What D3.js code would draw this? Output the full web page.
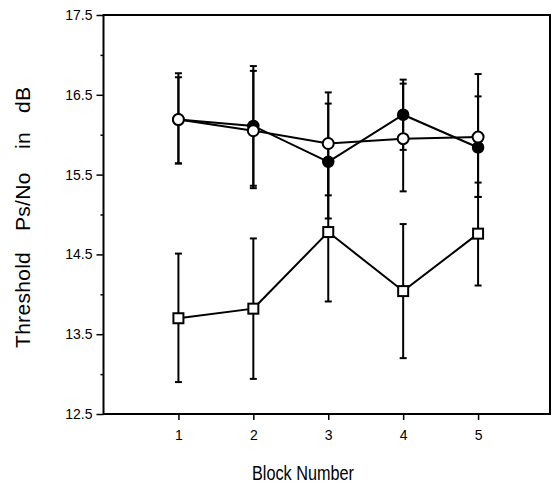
<!DOCTYPE html>
<html>
<head>
<meta charset="utf-8">
<script src="https://cdn.jsdelivr.net/npm/d3@7"></script>
<style>
  body { margin: 0; background: #fff; }
  text { font-family: "Liberation Sans", Arial, sans-serif; fill: #000; }
</style>
</head>
<body>
<svg id="chart"></svg>
<script>
// block numbers on the x axis
var blocks = [1, 2, 3, 4, 5];

// filled circles
var filledMean = [16.19, 16.11, 15.66, 16.25, 15.84];
var filledLo   = [15.64, 15.36, 14.95, 15.81, 15.22];
var filledHi   = [16.77, 16.86, 16.39, 16.69, 16.48];

// open circles
var openMean = [16.19, 16.05, 15.89, 15.95, 15.97];
var openLo   = [15.64, 15.33, 15.24, 15.29, 15.22];
var openHi   = [16.72, 16.80, 16.53, 16.64, 16.76];

// open squares
var squareMean = [13.70, 13.82, 14.78, 14.04, 14.76];
var squareLo   = [12.90, 12.94, 13.91, 13.20, 14.11];
var squareHi   = [14.51, 14.70, 15.65, 14.88, 15.40];

var yMajor = [12.5, 13.5, 14.5, 15.5, 16.5, 17.5];
var yMinor = [13, 14, 15, 16, 17];

var settings = { width: 554, height: 486, left: 103.5, right: 550, top: 15, bottom: 414 };

var svg = d3.select("#chart")
    .attr("width", settings.width)
    .attr("height", settings.height);

var x = d3.scaleLinear().domain([0, 5.96]).range([settings.left, settings.right]);
var y = d3.scaleLinear().domain([12.5, 17.5]).range([settings.bottom, settings.top]);

// frame
svg.append("rect")
    .attr("x", settings.left)
    .attr("y", settings.top)
    .attr("width", settings.right - settings.left)
    .attr("height", settings.bottom - settings.top)
    .attr("fill", "none")
    .attr("stroke", "#000")
    .attr("stroke-width", 2);

// y axis, major + minor ticks
var yAxis = svg.append("g")
    .attr("transform", "translate(" + settings.left + ",0)")
    .call(d3.axisLeft(y).tickValues(yMajor).tickFormat(d3.format(".1f")).tickSize(7).tickPadding(4));
yAxis.select(".domain").remove();
yAxis.selectAll("line").attr("stroke-width", 1.5);
yAxis.selectAll("text").style("font-size", "14px").style("font-family", "Liberation Sans, Arial, sans-serif");

var yMinorAxis = svg.append("g")
    .attr("transform", "translate(" + settings.left + ",0)")
    .call(d3.axisLeft(y).tickValues(yMinor).tickFormat("").tickSize(3));
yMinorAxis.select(".domain").remove();
yMinorAxis.selectAll("line").attr("stroke-width", 1.5);

// x axis
var xAxis = svg.append("g")
    .attr("transform", "translate(0," + settings.bottom + ")")
    .call(d3.axisBottom(x).tickValues(blocks).tickFormat(d3.format("d")).tickSize(6).tickPadding(10));
xAxis.select(".domain").remove();
xAxis.selectAll("line").attr("stroke-width", 1.5);
xAxis.selectAll("text").style("font-size", "14px").style("font-family", "Liberation Sans, Arial, sans-serif");

// axis titles
svg.append("text")
    .attr("x", 303)
    .attr("y", 480)
    .attr("text-anchor", "middle")
    .attr("textLength", 102)
    .attr("lengthAdjust", "spacingAndGlyphs")
    .style("font-family", "'Liberation Sans Narrow', 'Liberation Sans', Arial, sans-serif")
    .style("font-size", "20px")
    .text("Block Number");

var yWords = [
    { t: "Threshold", start: 348 },
    { t: "Ps/No", start: 231 },
    { t: "in", start: 149 },
    { t: "dB", start: 113 }
];
svg.append("g")
    .selectAll("text")
    .data(yWords)
    .join("text")
    .attr("transform", d => "translate(30," + d.start + ") rotate(-90)")
    .style("font-size", "21px")
    .style("letter-spacing", "0.3px")
    .text(d => d.t);

function makeSeries(mean, lo, hi) {
    return blocks.map((b, i) => ({ b: b, m: mean[i], lo: lo[i], hi: hi[i] }));
}
var filled = makeSeries(filledMean, filledLo, filledHi);
var open = makeSeries(openMean, openLo, openHi);
var squares = makeSeries(squareMean, squareLo, squareHi);

var line = d3.line().x(d => x(d.b)).y(d => y(d.m));
var plot = svg.append("g");

function errorBars(data) {
    var g = plot.append("g").attr("stroke", "#000").attr("stroke-width", 2);
    g.selectAll(".stem").data(data).join("line")
        .attr("x1", d => x(d.b)).attr("x2", d => x(d.b))
        .attr("y1", d => y(d.lo)).attr("y2", d => y(d.hi));
    g.selectAll(".capHi").data(data).join("line")
        .attr("x1", d => x(d.b) - 3.5).attr("x2", d => x(d.b) + 3.5)
        .attr("y1", d => y(d.hi)).attr("y2", d => y(d.hi));
    g.selectAll(".capLo").data(data).join("line")
        .attr("x1", d => x(d.b) - 3.5).attr("x2", d => x(d.b) + 3.5)
        .attr("y1", d => y(d.lo)).attr("y2", d => y(d.lo));
}

errorBars(squares);
errorBars(filled);
errorBars(open);

[squares, filled, open].forEach(s => {
    plot.append("path")
        .datum(s)
        .attr("fill", "none")
        .attr("stroke", "#000")
        .attr("stroke-width", 2)
        .attr("d", line);
});

plot.append("g").selectAll("rect").data(squares).join("rect")
    .attr("x", d => x(d.b) - 5)
    .attr("y", d => y(d.m) - 5)
    .attr("width", 10).attr("height", 10)
    .attr("fill", "#fff").attr("stroke", "#000").attr("stroke-width", 2);

plot.append("g").selectAll("circle").data(filled).join("circle")
    .attr("cx", d => x(d.b)).attr("cy", d => y(d.m)).attr("r", 5.5)
    .attr("fill", "#000").attr("stroke", "#000").attr("stroke-width", 1.5);

plot.append("g").selectAll("circle").data(open).join("circle")
    .attr("cx", d => x(d.b)).attr("cy", d => y(d.m)).attr("r", 5.5)
    .attr("fill", "#fff").attr("stroke", "#000").attr("stroke-width", 2);
</script>
</body>
</html>
